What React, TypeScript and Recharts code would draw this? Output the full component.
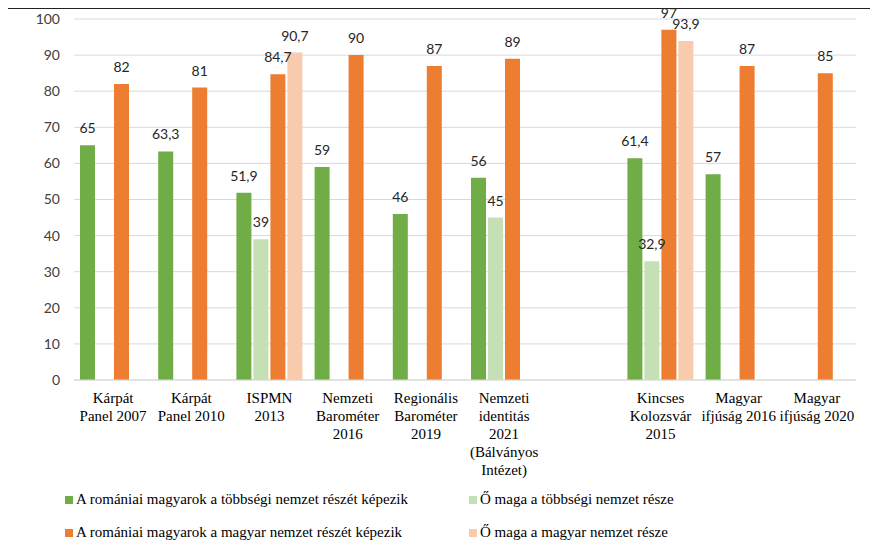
import React from "react";
import {
  BarChart,
  Bar,
  XAxis,
  YAxis,
  CartesianGrid,
  LabelList,
} from "recharts";

const categories = [
  "Kárpát\nPanel 2007",
  "Kárpát\nPanel 2010",
  "ISPMN\n2013",
  "Nemzeti\nBarométer\n2016",
  "Regionális\nBarométer\n2019",
  "Nemzeti\nidentitás\n2021\n(Bálványos\nIntézet)",
  "",
  "Kincses\nKolozsvár\n2015",
  "Magyar\nifjúság 2016",
  "Magyar\nifjúság 2020",
];

const tobbsegiKepezik = [65, 63.3, 51.9, 59, 46, 56, null, 61.4, 57, null];
const tobbsegiResze = [null, null, 39, null, null, 45, null, 32.9, null, null];
const magyarKepezik = [82, 81, 84.7, 90, 87, 89, null, 97, 87, 85];
const magyarResze = [null, null, 90.7, null, null, null, null, 93.9, null, null];

const yTicks = [0, 10, 20, 30, 40, 50, 60, 70, 80, 90, 100];

const series = [
  { key: "tk", name: "A romániai magyarok a többségi nemzet részét képezik", color: "#70AD47" },
  { key: "tr", name: "Ő maga a többségi nemzet része", color: "#C5E0B4" },
  { key: "mk", name: "A romániai magyarok a magyar nemzet részét képezik", color: "#ED7D31" },
  { key: "mr", name: "Ő maga a magyar nemzet része", color: "#F8CBAD" },
];

const data = categories.map((c, i) => ({
  cat: c,
  id: String(i),
  tk: tobbsegiKepezik[i],
  tr: tobbsegiResze[i],
  mk: magyarKepezik[i],
  mr: magyarResze[i],
}));

const fmt = (v: any) => (v === null || v === undefined ? "" : String(v).replace(".", ","));

const serif = "'Liberation Serif', 'Times New Roman', serif";

const CatTick = (props: any) => {
  const { x, y, payload } = props;
  const label = categories[Number(payload.value)] || "";
  const lines = label.split("\n");
  return (
    <text x={x} y={y + 23} textAnchor="middle" fontFamily={serif} fontSize={15} fill="#000">
      {lines.map((l, i) => (
        <tspan key={i} x={x} dy={i === 0 ? 0 : 18}>
          {l}
        </tspan>
      ))}
    </text>
  );
};

export default function App() {
  return (
    <div
      style={{
        position: "relative",
        width: 880,
        height: 560,
        marginLeft: -1,
        borderLeft: "1px solid #222",
        borderTop: "1px solid #222",
        overflow: "hidden",
      }}
    >
      <div style={{ position: "absolute", left: -8, top: -9 }}>
        <BarChart
          width={878}
          height={551}
          data={data}
          margin={{ top: 19, right: 22, left: 0, bottom: 0 }}
          barCategoryGap={6}
          barGap={2}
        >
          <CartesianGrid vertical={false} stroke="#d9d9d9" />
          <XAxis
            dataKey="id"
            height={171}
            tickLine={false}
            tickSize={0}
            tickMargin={0}
            stroke="#d9d9d9"
            interval={0}
            tick={<CatTick />}
          />
          <YAxis
            width={74}
            domain={[0, 100]}
            ticks={yTicks}
            axisLine={false}
            tickLine={false}
            tickMargin={8}
            tick={{ fill: "#404040", fontSize: 14, fontFamily: "Lato, sans-serif" }}
          />
          {series.map((s) => (
            <Bar key={s.key} dataKey={s.key} name={s.name} fill={s.color} isAnimationActive={false}>
              <LabelList
                dataKey={s.key}
                position="top"
                offset={12}
                formatter={fmt}
                fill="#262626"
                fontSize={14}
                fontFamily="Lato, sans-serif"
              />
            </Bar>
          ))}
        </BarChart>
        {series.map((s, i) => (
          <div
            key={s.key}
            style={{
              position: "absolute",
              left: i % 2 === 0 ? 65 : 469,
              top: i < 2 ? 491 : 524,
              height: 17,
              display: "flex",
              alignItems: "center",
              fontFamily: serif,
              fontSize: 15,
              lineHeight: "17px",
              color: "#000",
              whiteSpace: "nowrap",
            }}
          >
            <span
              style={{ width: 8, height: 8, background: s.color, display: "inline-block", marginRight: 3 }}
            />
            {s.name}
          </div>
        ))}
      </div>
    </div>
  );
}
